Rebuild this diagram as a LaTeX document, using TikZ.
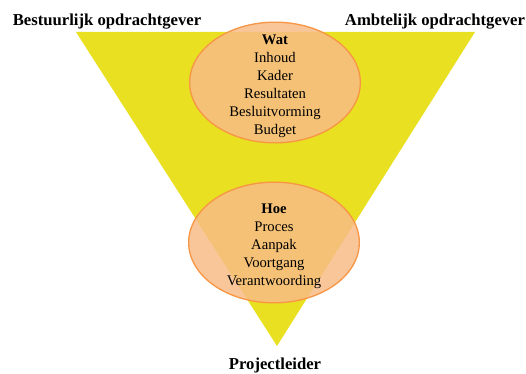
\documentclass[tikz,border=0pt]{standalone}
\usepackage{fontspec}
\setmainfont{Liberation Serif}
\usepackage{xcolor}
\usetikzlibrary{shapes.geometric}
\definecolor{geel}{RGB}{232,224,32}
\definecolor{perzik}{RGB}{248,188,135}
\definecolor{oranje}{RGB}{247,150,70}
\tikzset{
Ovaal/.style={
 ellipse, 
 draw=oranje, 
 line width=1pt, 
 fill=perzik, 
 fill opacity=0.85, 
 minimum width=128pt, 
 minimum height=90.5pt, 
 inner sep=0pt
 },
Tekst/.style={
 align=center, 
 inner sep=0pt, 
 font=\fontsize{11}{13.5}\selectfont
 },
Rol/.style={
 font=\fontsize{12.5}{14}\selectfont\bfseries, 
 inner sep=0pt
 }
}
\begin{document}
\begin{tikzpicture}[x=0.75pt,y=-0.75pt]
\useasboundingbox (0,0) rectangle (526,374);
\fill[geel] (76,32) -- (475,32) -- (277,346) -- cycle;
\node[Ovaal] (wat) at (275,82.5) {};
\node[Tekst] (wattekst) at ([yshift=-3pt]wat.center) {\textbf{Wat}\\Inhoud\\Kader\\Resultaten\\Besluitvorming\\Budget};
\node[Ovaal] (hoe) at (274,242.5) {};
\node[Tekst] (hoetekst) at ([yshift=-2.5pt]hoe.center) {\textbf{Hoe}\\Proces\\Aanpak\\Voortgang\\Verantwoording};
\node[Rol] (bestuur) at (107,22) {Bestuurlijk opdrachtgever};
\node[Rol] (ambt) at (435,22) {Ambtelijk opdrachtgever};
\node[Rol] (pl) at (275,365) {Projectleider};
\end{tikzpicture}
\end{document}
